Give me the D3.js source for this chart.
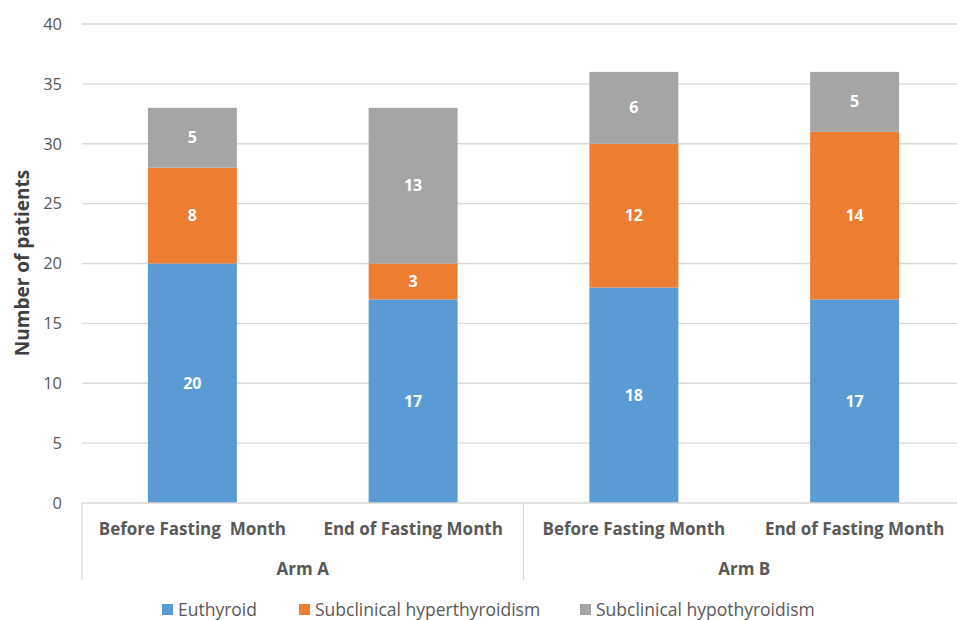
<!DOCTYPE html>
<html>
<head>
<meta charset="utf-8">
<script src="https://cdn.jsdelivr.net/npm/d3@7"></script>
<style>
  body { margin: 0; background: #fff; }
  text { font-family: "Open Sans", sans-serif; fill: #595959; }
</style>
</head>
<body>
<div id="chart"></div>
<script>
// chart data
var categories = ["Before Fasting  Month", "End of Fasting Month", "Before Fasting Month", "End of Fasting Month"];
var groups = ["Arm A", "Arm A", "Arm B", "Arm B"];
var seriesNames = ["Euthyroid", "Subclinical hyperthyroidism", "Subclinical hypothyroidism"];
var euthyroid = [20, 17, 18, 17];
var hyper = [8, 3, 12, 14];
var hypo = [5, 13, 6, 5];
var yTicks = [0, 5, 10, 15, 20, 25, 30, 35, 40];

var colors = ["#5B9BD5", "#ED7D31", "#A5A5A5"];

var svgWidth = 957;
var svgHeight = 620;
var margin = { top: 24, right: 0, bottom: 117, left: 82 };
var width = 965 - margin.left;
var height = 503 - margin.top;

var svg = d3.select("#chart")
  .append("svg")
  .attr("width", svgWidth)
  .attr("height", svgHeight);

var chartGroup = svg.append("g")
  .attr("transform", `translate(${margin.left}, ${margin.top})`);

var x = d3.scaleBand()
  .domain(d3.range(categories.length))
  .range([0, width])
  .paddingInner(0.597)
  .paddingOuter(0.2985);

var y = d3.scaleLinear()
  .domain([0, 40])
  .range([height, 0]);

// gridlines
chartGroup.selectAll(".grid")
  .data(yTicks.slice(1))
  .enter()
  .append("line")
  .attr("x1", 0)
  .attr("x2", width)
  .attr("y1", d => y(d))
  .attr("y2", d => y(d))
  .attr("stroke", "#d9d9d9")
  .attr("stroke-width", 1.3);

// y axis labels
var leftAxis = d3.axisLeft(y).tickValues(yTicks).tickSize(0).tickPadding(20);
var yAxis = chartGroup.append("g").call(leftAxis);
yAxis.select(".domain").remove();
yAxis.selectAll("text")
  .style("font-family", "'Open Sans', sans-serif")
  .style("font-size", "16.5px")
  .attr("fill", "#595959");

// stack the series
var table = categories.map((c, i) => ({ idx: i, e: euthyroid[i], hr: hyper[i], ho: hypo[i] }));
var stack = d3.stack().keys(["e", "hr", "ho"]);
var stacked = stack(table);

var layers = chartGroup.selectAll(".layer")
  .data(stacked)
  .enter()
  .append("g")
  .attr("fill", (d, i) => colors[i]);

layers.selectAll("rect")
  .data(d => d)
  .enter()
  .append("rect")
  .attr("x", d => x(d.data.idx))
  .attr("width", x.bandwidth())
  .attr("y", d => y(d[1]))
  .attr("height", d => y(d[0]) - y(d[1]));

layers.selectAll(".lbl")
  .data(d => d)
  .enter()
  .append("text")
  .attr("x", d => x(d.data.idx) + x.bandwidth() / 2)
  .attr("y", d => (y(d[0]) + y(d[1])) / 2)
  .attr("dy", "0.35em")
  .attr("text-anchor", "middle")
  .style("fill", "#fff")
  .style("font-weight", "bold")
  .style("font-size", "16px")
  .text(d => d[1] - d[0]);

// x axis line
chartGroup.append("line")
  .attr("x1", 0)
  .attr("x2", width)
  .attr("y1", height)
  .attr("y2", height)
  .attr("stroke", "#d9d9d9")
  .attr("stroke-width", 1.3);

// group separators
var sepX = [0, x.step() * 2, width];
chartGroup.selectAll(".sep")
  .data(sepX)
  .enter()
  .append("line")
  .attr("x1", d => d)
  .attr("x2", d => d)
  .attr("y1", height)
  .attr("y2", height + 77)
  .attr("stroke", "#d9d9d9")
  .attr("stroke-width", 1.3);

// category labels
chartGroup.selectAll(".cat")
  .data(categories)
  .enter()
  .append("text")
  .attr("x", (d, i) => x(i) + x.bandwidth() / 2)
  .attr("y", height + 26)
  .attr("dy", "0.35em")
  .attr("text-anchor", "middle")
  .style("font-weight", "bold")
  .style("font-size", "17px")
  .style("white-space", "pre")
  .text(d => d);

// group labels
var groupNames = Array.from(new Set(groups));
chartGroup.selectAll(".grp")
  .data(groupNames)
  .enter()
  .append("text")
  .attr("x", (d, i) => x.step() * (2 * i + 1))
  .attr("y", height + 66)
  .attr("dy", "0.35em")
  .attr("text-anchor", "middle")
  .style("font-weight", "bold")
  .style("font-size", "17px")
  .text(d => d);

// y axis title
svg.append("text")
  .attr("transform", "rotate(-90)")
  .attr("x", -263)
  .attr("y", 22)
  .attr("dy", "0.35em")
  .attr("text-anchor", "middle")
  .style("font-weight", "bold")
  .style("font-size", "19px")
  .style("fill", "#404040")
  .text("Number of patients");

// legend
var legendX = [162, 299, 580];
var legend = svg.selectAll(".legend")
  .data(seriesNames)
  .enter()
  .append("g")
  .attr("transform", (d, i) => `translate(${legendX[i]}, 610)`);

legend.append("rect")
  .attr("x", 0)
  .attr("y", -6)
  .attr("width", 11)
  .attr("height", 11)
  .attr("fill", (d, i) => colors[i]);

legend.append("text")
  .attr("x", 16)
  .attr("y", 0)
  .attr("dy", "0.35em")
  .style("font-size", "17.5px")
  .text(d => d);
</script>
</body>
</html>
